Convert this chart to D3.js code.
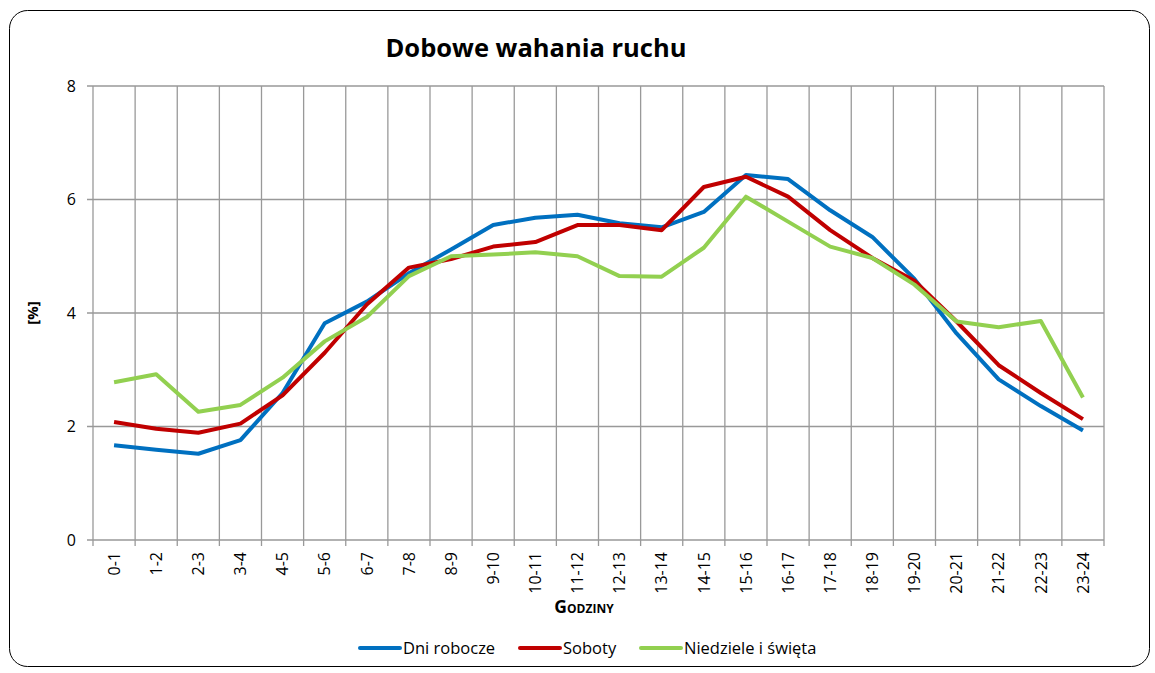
<!DOCTYPE html>
<html><head><meta charset="utf-8">
<script src="https://cdn.jsdelivr.net/npm/d3@7"></script>
<style>body{margin:0;background:#fff;} text{font-family:"Open Sans",Lato,sans-serif;fill:#000;}</style>
</head><body>
<svg id="c" width="1155" height="673"></svg>
<script>
const categories = ["0-1","1-2","2-3","3-4","4-5","5-6","6-7","7-8","8-9","9-10","10-11","11-12","12-13","13-14","14-15","15-16","16-17","17-18","18-19","19-20","20-21","21-22","22-23","23-24"];
const dniRobocze = [1.67,1.59,1.52,1.76,2.59,3.82,4.2,4.7,5.12,5.55,5.68,5.73,5.58,5.51,5.78,6.43,6.36,5.81,5.34,4.6,3.64,2.83,2.36,1.93];
const soboty = [2.08,1.96,1.89,2.05,2.55,3.3,4.15,4.8,4.95,5.17,5.25,5.55,5.55,5.46,6.22,6.4,6.05,5.46,4.97,4.57,3.85,3.08,2.59,2.13];
const niedziele = [2.78,2.92,2.26,2.38,2.86,3.5,3.93,4.65,5.0,5.03,5.07,5.0,4.65,4.64,5.15,6.05,5.61,5.17,4.97,4.5,3.85,3.75,3.86,2.51];
const yTicks = [0,2,4,6,8];
const series = [
  {name:"Dni robocze", values:dniRobocze, color:"#0070C0"},
  {name:"Soboty", values:soboty, color:"#C00000"},
  {name:"Niedziele i święta", values:niedziele, color:"#92D050"}
];
const svg = d3.select("#c");
svg.append("rect").attr("x",9.5).attr("y",10.5).attr("width",1140).attr("height",656).attr("rx",18).attr("fill","#fff").attr("stroke","#000").attr("stroke-width",1);
const L=93, R=1104, T=86, B=540;
const x = d3.scaleBand().domain(categories).range([L,R]);
const y = d3.scaleLinear().domain([0,8]).range([B,T]);
const grid="#999";
svg.append("g").selectAll("line").data(yTicks).join("line")
  .attr("x1",L-6).attr("x2",R).attr("y1",d=>y(d)).attr("y2",d=>y(d)).attr("stroke",grid).attr("stroke-width",1.3);
const vpos = categories.map(c=>x(c)).concat([R]);
svg.append("g").selectAll("line").data(vpos).join("line")
  .attr("x1",d=>d).attr("x2",d=>d).attr("y1",T).attr("y2",B+6).attr("stroke",grid).attr("stroke-width",1.3);
svg.append("g").selectAll("text").data(yTicks).join("text")
  .attr("x",76).attr("y",d=>y(d)).attr("dy","0.36em").attr("text-anchor","end").attr("font-size",16).text(d=>d);
svg.append("g").selectAll("text").data(categories).join("text")
  .attr("transform",d=>`translate(${x(d)+x.bandwidth()/2},552) rotate(-90)`)
  .attr("dy","0.36em").attr("text-anchor","end").attr("font-size",16).text(d=>d);
const line = d3.line().x((d,i)=>x(categories[i])+x.bandwidth()/2).y(d=>y(d));
series.forEach(s=>{
  svg.append("path").datum(s.values).attr("d",line).attr("fill","none").attr("stroke",s.color).attr("stroke-width",4).attr("stroke-linejoin","round");
});
svg.append("text").attr("x",536).attr("y",57).attr("text-anchor","middle").attr("font-size",25.5).attr("font-weight","bold").text("Dobowe wahania ruchu");
svg.append("text").attr("transform","translate(33,313) rotate(-90)").attr("text-anchor","middle").attr("dy","0.36em").attr("font-size",15).attr("font-weight","bold").text("[%]");
svg.append("text").attr("x",584).attr("y",613).attr("text-anchor","middle").attr("font-size",17.5).attr("font-weight","bold").style("font-variant","small-caps").text("Godziny");
const lg = [{x:360},{x:520},{x:641}];
series.forEach((s,i)=>{
  const g = svg.append("g").attr("transform",`translate(${lg[i].x},648)`);
  g.append("line").attr("x1",0).attr("x2",40).attr("stroke",s.color).attr("stroke-width",4).attr("stroke-linecap","round");
  g.append("text").attr("x",43).attr("dy","0.36em").attr("font-size",16.5).text(s.name);
});
</script>
</body></html>
